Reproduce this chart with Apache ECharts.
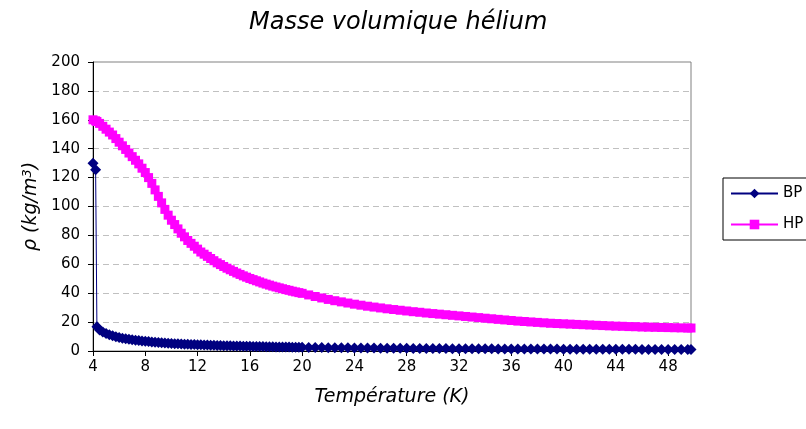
<!DOCTYPE html>
<html><head><meta charset="utf-8">
<script src="https://cdn.jsdelivr.net/npm/echarts@6/dist/echarts.min.js"></script>
<style>html,body{margin:0;padding:0;background:#fff}#c{width:806px;height:429px}</style>
</head><body><div id="c"></div>
<script>
// Temperature (K)
const temperatures = [
  4, 4.2, 4.3, 4.5, 4.75,
  5, 5.25, 5.5, 5.75,  6, 6.25, 6.5, 6.75,  7, 7.25, 7.5, 7.75,  8, 8.25, 8.5, 8.75,
  9, 9.25, 9.5, 9.75,  10, 10.25, 10.5, 10.75,  11, 11.25, 11.5, 11.75,  12, 12.25, 12.5, 12.75,
  13, 13.25, 13.5, 13.75,  14, 14.25, 14.5, 14.75,  15, 15.25, 15.5, 15.75,  16, 16.25, 16.5, 16.75,
  17, 17.25, 17.5, 17.75,  18, 18.25, 18.5, 18.75,  19, 19.25, 19.5, 19.75,
  20,
  20.5, 21, 21.5, 22, 22.5, 23, 23.5, 24, 24.5, 25, 25.5, 26, 26.5, 27, 27.5, 28, 28.5, 29, 29.5,
  30, 30.5, 31, 31.5, 32, 32.5, 33, 33.5, 34, 34.5, 35, 35.5, 36, 36.5, 37, 37.5, 38, 38.5, 39, 39.5,
  40, 40.5, 41, 41.5, 42, 42.5, 43, 43.5, 44, 44.5, 45, 45.5, 46, 46.5, 47, 47.5, 48, 48.5, 49, 49.5,
  49.75
];
// BP density (kg/m3)
const bpDensity = [
  130, 125.5, 16.8, 14.6, 13.2,
  12.1, 11.2, 10.5, 9.9,  9.4, 8.9, 8.5, 8.1,  7.8, 7.5, 7.2, 6.95,  6.7, 6.5, 6.3, 6.1,
  5.9, 5.7, 5.55, 5.4,  5.25, 5.1, 5.0, 4.9,  4.75, 4.65, 4.55, 4.45,  4.35, 4.25, 4.15, 4.1,
  4.0, 3.9, 3.85, 3.8,  3.7, 3.65, 3.6, 3.5,  3.45, 3.4, 3.35, 3.3,  3.25, 3.2, 3.15, 3.1,
  3.05, 3.0, 2.95, 2.9,  2.85, 2.8, 2.78, 2.75,  2.7, 2.67, 2.63, 2.6,
  2.55,
  2.5, 2.43, 2.37, 2.32, 2.27, 2.22, 2.17, 2.13, 2.08, 2.04, 2.0, 1.96, 1.93, 1.89, 1.86, 1.82, 1.79, 1.76, 1.73,
  1.70, 1.67, 1.65, 1.62, 1.6, 1.57, 1.55, 1.53, 1.5, 1.48, 1.46, 1.44, 1.42, 1.4, 1.38, 1.36, 1.35, 1.33, 1.31, 1.3,
  1.28, 1.26, 1.25, 1.23, 1.22, 1.2, 1.19, 1.18, 1.16, 1.15, 1.14, 1.13, 1.11, 1.1, 1.09, 1.08, 1.07, 1.06, 1.05, 1.04,
  1.03
];
// HP density (kg/m3)
const hpDensity = [
  160, 159.3, 158.8, 157.5, 155.5,
  153.5, 151.5, 149.5, 147,  144.5, 142, 139.5, 137,  134.5, 132, 129.5, 126.5,  123.5, 120, 116, 111.5,
  107, 102.5, 98, 94,  90.5, 87.5, 84.5, 81.5,  79, 76.5, 74.5, 72.5,  70.5, 68.5, 67, 65.5,
  64, 62.5, 61, 59.8,  58.5, 57.3, 56.2, 55.1,  54, 53, 52, 51.1,  50.2, 49.4, 48.6, 47.8,
  47, 46.3, 45.6, 44.9,  44.3, 43.7, 43.1, 42.5,  42, 41.4, 40.9, 40.4,
  39.9,
  38.8, 37.7, 36.7, 35.7, 34.8, 34, 33.2, 32.4, 31.7, 31, 30.4, 29.8, 29.2, 28.7, 28.2, 27.7, 27.2, 26.8, 26.3,
  25.9, 25.5, 25.1, 24.7, 24.3, 23.9, 23.5, 23.1, 22.7, 22.3, 21.9, 21.5, 21.1, 20.7, 20.4, 20.1, 19.8, 19.5, 19.2, 19,
  18.8, 18.6, 18.4, 18.2, 18, 17.8, 17.6, 17.4, 17.2, 17.1, 16.9, 16.8, 16.6, 16.5, 16.4, 16.3, 16.2, 16.1, 16, 15.9,
  15.9
];
const xTickLabels = [4, 8, 12, 16, 20, 24, 28, 32, 36, 40, 44, 48];
const seriesNames = ['BP', 'HP'];

const FONT = 'DejaVu Sans';
const chart = echarts.init(document.getElementById('c'), null, {renderer: 'canvas'});
chart.setOption({
  animation: false,
  backgroundColor: '#fff',
  title: {
    text: 'Masse volumique hélium',
    left: 244, top: 6,
    textStyle: {fontStyle: 'italic', fontWeight: 'normal', fontSize: 24, fontFamily: FONT, color: '#000'}
  },
  legend: {
    data: seriesNames,
    orient: 'vertical',
    left: 723, top: 178,
    itemWidth: 47, itemHeight: 12, itemGap: 16,
    padding: [8, 8, 8, 7],
    borderColor: '#000', borderWidth: 1,
    textStyle: {fontSize: 15, color: '#000', fontFamily: FONT}
  },
  grid: {left: 93, right: 115, top: 62, bottom: 78, show: true, borderColor: '#808080', borderWidth: 1},
  xAxis: {
    type: 'value', min: 4, max: 49.75,
    name: 'Température (K)', nameLocation: 'middle', nameGap: 37,
    nameTextStyle: {fontStyle: 'italic', fontSize: 19, fontFamily: FONT, color: '#000'},
    axisLine: {onZero: false, lineStyle: {color: '#000', width: 1}},
    axisTick: {customValues: xTickLabels, length: 5, lineStyle: {color: '#000'}},
    axisLabel: {customValues: xTickLabels, color: '#000', fontSize: 15, fontFamily: FONT, margin: 9},
    splitLine: {show: false}
  },
  yAxis: {
    type: 'value', min: 0, max: 200, interval: 20,
    name: '{a|ρ (kg/m}{s|3}{a|)}', nameLocation: 'middle', nameGap: 45, nameRotate: 90,
    nameTextStyle: {
      color: '#000',
      rich: {
        a: {fontStyle: 'italic', fontSize: 19, fontFamily: FONT, color: '#000'},
        s: {fontStyle: 'italic', fontSize: 13, fontFamily: FONT, color: '#000', verticalAlign: 'top'}
      }
    },
    axisLine: {show: true, lineStyle: {color: '#000', width: 1}},
    axisTick: {show: true, length: 5, lineStyle: {color: '#000'}},
    axisLabel: {color: '#000', fontSize: 15, fontFamily: FONT, margin: 13},
    splitLine: {show: true, lineStyle: {color: '#c0c0c0', type: [6, 4], width: 1}}
  },
  series: [
    {
      name: seriesNames[0], type: 'line',
      data: temperatures.map((t, i) => [t, bpDensity[i]]),
      symbol: 'diamond', symbolSize: 11, showAllSymbol: true,
      itemStyle: {color: '#000080'},
      lineStyle: {color: '#000080', width: 1}
    },
    {
      name: seriesNames[1], type: 'line',
      data: temperatures.map((t, i) => [t, hpDensity[i]]),
      symbol: 'rect', symbolSize: 9, showAllSymbol: true,
      itemStyle: {color: '#ff00ff'},
      lineStyle: {color: '#ff00ff', width: 1}
    }
  ]
});
</script>
</body></html>
